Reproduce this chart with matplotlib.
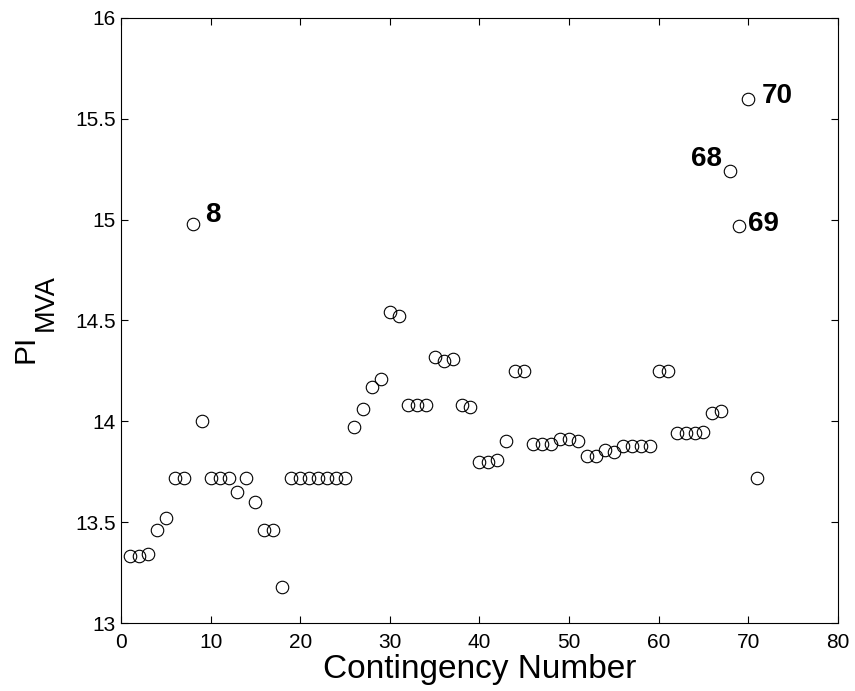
import matplotlib
matplotlib.use("Agg")
import matplotlib.pyplot as plt
import numpy as np

plt.rcParams['font.family'] = ['Liberation Sans', 'DejaVu Sans']

# contingency numbers and performance index values
contingencia = np.arange(1, 72)
pi_mva = [13.33, 13.33, 13.34, 13.46, 13.52, 13.72, 13.72, 14.98, 14.00, 13.72,
          13.72, 13.72, 13.65, 13.72, 13.60, 13.46, 13.46, 13.18, 13.72, 13.72,
          13.72, 13.72, 13.72, 13.72, 13.72, 13.97, 14.06, 14.17, 14.21, 14.54,
          14.52, 14.08, 14.08, 14.08, 14.32, 14.30, 14.31, 14.08, 14.07, 13.80,
          13.80, 13.81, 13.90, 14.25, 14.25, 13.89, 13.89, 13.89, 13.91, 13.91,
          13.90, 13.83, 13.83, 13.86, 13.85, 13.88, 13.88, 13.88, 13.88, 14.25,
          14.25, 13.94, 13.94, 13.94, 13.945, 14.04, 14.05, 15.24, 14.97, 15.60,
          13.72]

# labelled outliers: contingency -> (dx, dy in points, horizontal alignment)
etiquetas = {8: (9, 1, 'left'), 70: (10, -3, 'left'),
             68: (-6, 3.6, 'right'), 69: (6.5, -3.6, 'left')}

fig = plt.figure(figsize=(8.55, 6.91), dpi=100)
ax = fig.add_axes([0.1415, 0.0984, 0.8385, 0.8756])

ax.plot(contingencia, pi_mva, linestyle='none', marker='o', markersize=9,
        markerfacecolor='none', markeredgecolor='black', markeredgewidth=0.8)

for num, (dx, dy, ha) in etiquetas.items():
    ax.annotate(str(num), (num, pi_mva[num - 1]), xytext=(dx, dy),
                textcoords='offset points', fontsize=20, fontweight='bold',
                va='baseline', ha=ha)

ax.set_xlim(0, 80)
ax.set_ylim(13, 16)
ax.set_xticks(np.arange(0, 81, 10))
ax.set_yticks(np.arange(13, 16.01, 0.5))
ax.set_yticklabels(['13', '13.5', '14', '14.5', '15', '15.5', '16'])
ax.tick_params(direction='in', top=True, right=True, labelsize=15, length=5)
ax.tick_params(axis='x', pad=7.5)
ax.set_xlabel('Contingency Number', fontsize=24, labelpad=1)

# y label: PI with a large subscript MVA
fig.text(26 / 855, 1 - 363 / 691, 'PI', rotation=90, fontsize=21.5,
         ha='center', va='bottom')
fig.text(46 / 855, 1 - 331 / 691, 'MVA', rotation=90, fontsize=19.5,
         ha='center', va='bottom')

fig.savefig('out.png', dpi=100)
